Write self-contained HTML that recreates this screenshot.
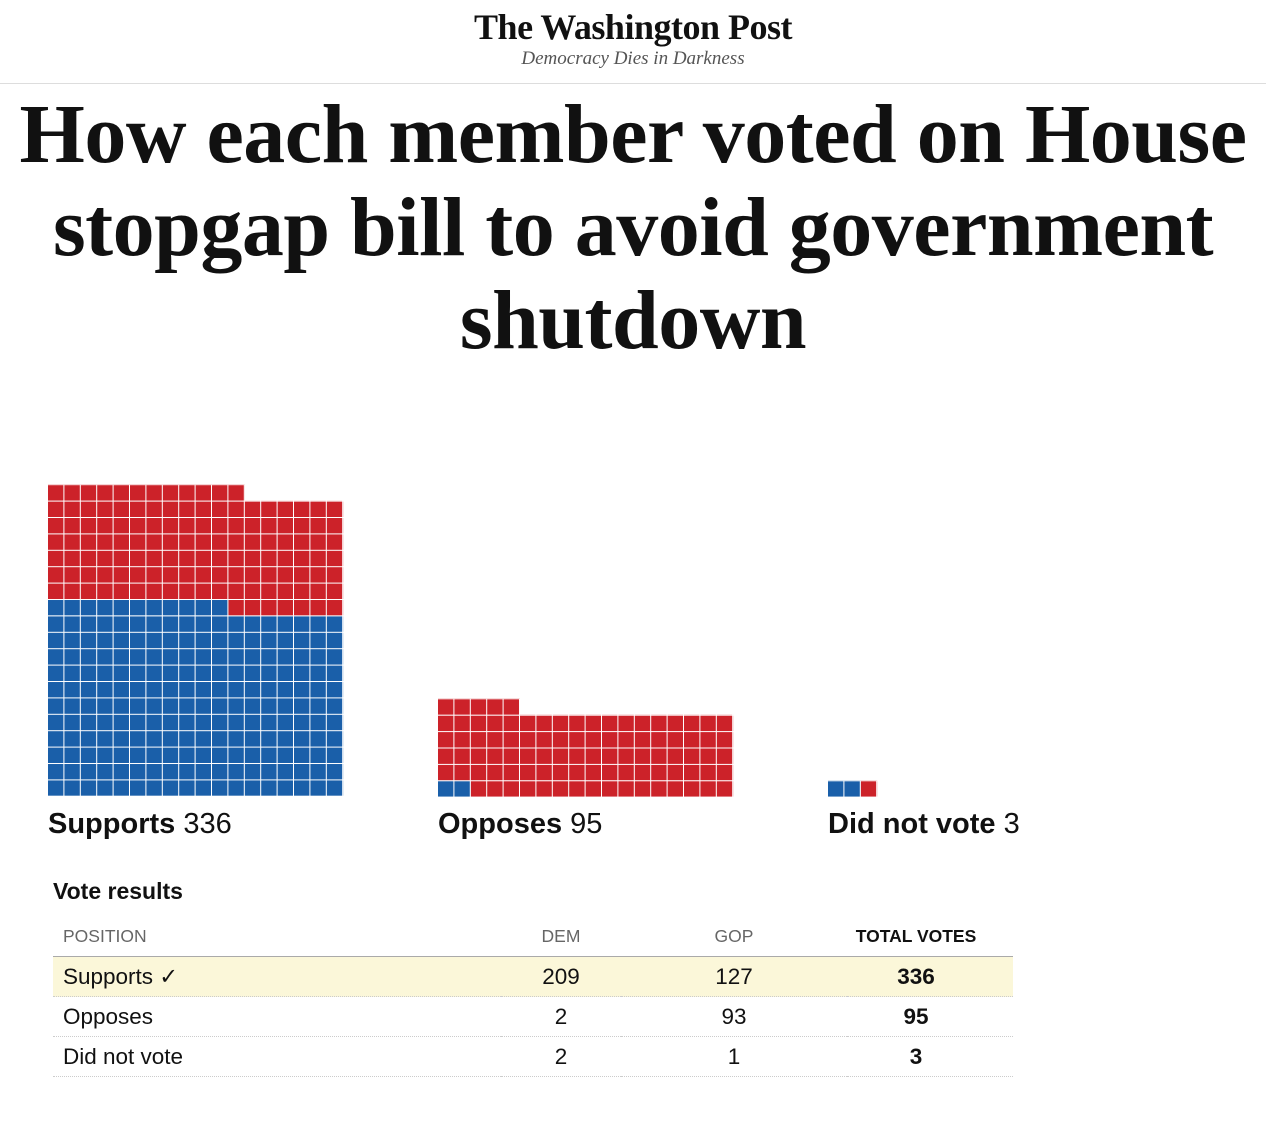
<!DOCTYPE html>
<html><head><meta charset="utf-8"><style>
body{margin:0;width:1266px;height:1122px;background:#fff;position:relative;overflow:hidden;font-family:"Liberation Sans",sans-serif;color:#111}
.a{position:absolute}
.logo{left:0;width:1266px;top:6px;text-align:center;font-family:"Liberation Serif",serif;font-weight:bold;font-size:36px;letter-spacing:-0.5px;color:#111}
.tag{left:0;width:1266px;top:48px;text-align:center;font-family:"Liberation Serif",serif;font-style:italic;font-size:19px;color:#555}
.hr{left:0;top:83px;width:1266px;height:1px;background:#ddd}
.title{left:0;width:1266px;top:88px;text-align:center;font-family:"Liberation Serif",serif;font-weight:bold;font-size:84px;line-height:93px;letter-spacing:-0.5px}
.lab{font-size:29px;font-weight:bold;top:808px}
.lab span{font-weight:normal}
table{position:absolute;left:53px;top:917px;width:960px;border-collapse:collapse;font-size:22.5px;table-layout:fixed}
th{font-weight:normal;font-size:17.5px;color:#666;height:39px;padding:0;text-align:center;border-bottom:1px solid #aaa}
td{height:39px;padding:0;text-align:center;border-bottom:1px dotted #ccc}
td:first-child,th:first-child{text-align:left;padding-left:10px}
td:last-child,th:last-child{padding-right:28px}
</style></head><body>
<div class="a logo">The Washington Post</div>
<div class="a tag">Democracy Dies in Darkness</div>
<div class="a hr"></div>
<div class="a title">How each member voted on House<br>stopgap bill to avoid government<br>shutdown</div>

<svg class="a" style="left:48px;top:484.4px" width="296" height="312" viewBox="0 0 296 311.6">
<defs><pattern id="g" width="16.4" height="16.4" patternUnits="userSpaceOnUse"><rect x="15.4" y="0" width="1" height="16.4" fill="#fff"/><rect x="0" y="0" width="16.4" height="1" fill="#fff"/></pattern></defs>
<g fill="#1a5fa9"><rect x="0" y="131.2" width="295.2" height="180.4"/><rect x="0" y="114.8" width="180.4" height="16.4"/></g>
<g fill="#cc2229"><rect x="180.4" y="114.8" width="114.8" height="16.4"/><rect x="0" y="16.4" width="295.2" height="98.4"/><rect x="0" y="0" width="196.8" height="16.4"/></g>
<rect width="296" height="312" fill="url(#g)"/>
</svg>

<svg class="a" style="left:438px;top:697.6px" width="296" height="99" viewBox="0 0 296 98.4">
<defs><pattern id="g2" width="16.4" height="16.4" patternUnits="userSpaceOnUse"><rect x="15.4" y="0" width="1" height="16.4" fill="#fff"/><rect x="0" y="0" width="16.4" height="1" fill="#fff"/></pattern></defs>
<rect x="0" y="82" width="32.8" height="16.4" fill="#1a5fa9"/>
<g fill="#cc2229"><rect x="32.8" y="82" width="262.4" height="16.4"/><rect x="0" y="16.4" width="295.2" height="65.6"/><rect x="0" y="0" width="82" height="16.4"/></g>
<rect width="296" height="99" fill="url(#g2)"/>
</svg>

<svg class="a" style="left:828px;top:779.6px" width="50" height="17" viewBox="0 0 50 16.4">
<defs><pattern id="g3" width="16.4" height="16.4" patternUnits="userSpaceOnUse"><rect x="15.4" y="0" width="1" height="16.4" fill="#fff"/><rect x="0" y="0" width="16.4" height="1" fill="#fff"/></pattern></defs>
<rect x="0" y="0" width="32.8" height="16.4" fill="#1a5fa9"/><rect x="32.8" y="0" width="16.4" height="16.4" fill="#cc2229"/>
<rect width="50" height="17" fill="url(#g3)"/>
</svg>

<div class="a lab" style="left:48px">Supports <span>336</span></div>
<div class="a lab" style="left:438px">Opposes <span>95</span></div>
<div class="a lab" style="left:828px">Did not vote <span>3</span></div>

<div class="a" style="left:53px;top:878px;font-size:23px;font-weight:bold">Vote results</div>
<table>
<colgroup><col style="width:448px"><col style="width:120px"><col style="width:226px"><col style="width:166px"></colgroup>
<tr><th>POSITION</th><th>DEM</th><th>GOP</th><th style="color:#111;font-weight:bold">TOTAL VOTES</th></tr>
<tr style="background:#fbf7d9"><td>Supports ✓</td><td>209</td><td>127</td><td><b>336</b></td></tr>
<tr><td>Opposes</td><td>2</td><td>93</td><td><b>95</b></td></tr>
<tr><td>Did not vote</td><td>2</td><td>1</td><td><b>3</b></td></tr>
</table>
</body></html>
